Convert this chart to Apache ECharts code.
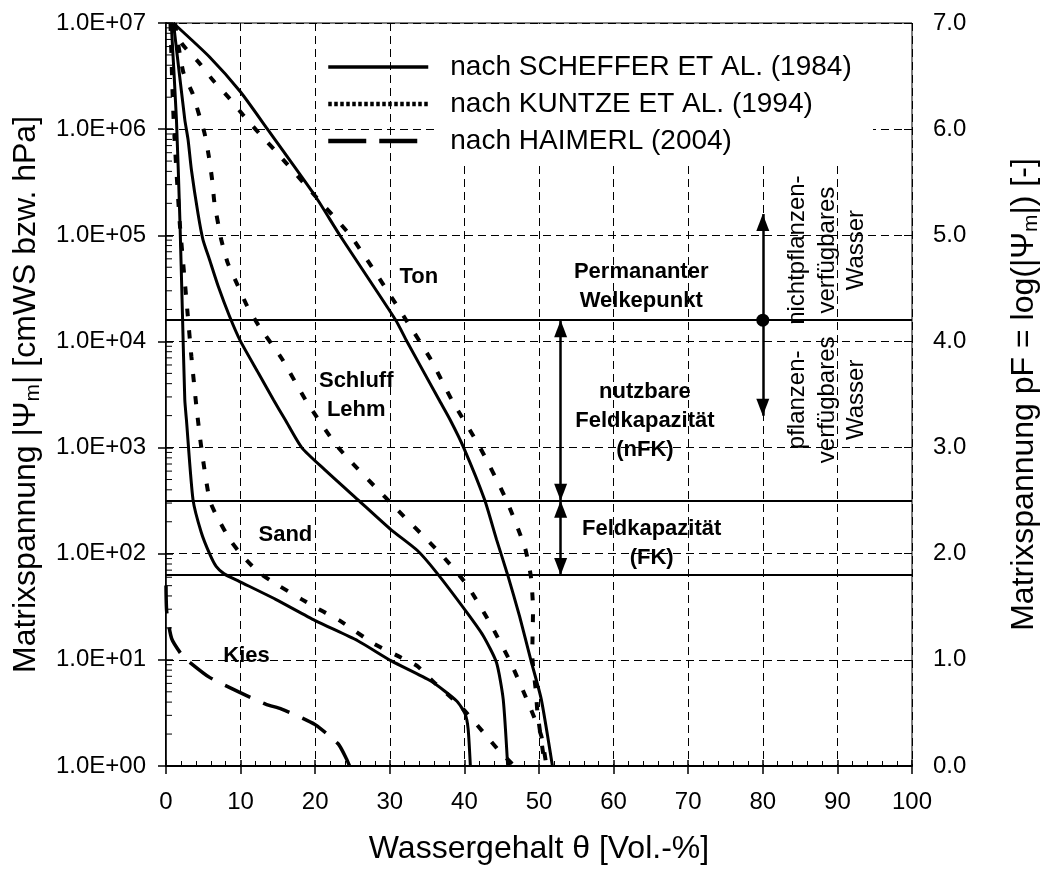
<!DOCTYPE html>
<html lang="de">
<head>
<meta charset="utf-8">
<title>pF-Kurven</title>
<script src="https://cdn.jsdelivr.net/npm/echarts@6/dist/echarts.min.js"></script>
<style>
  html, body { margin: 0; background: #fff; }
  #chart { width: 1050px; height: 870px; }
</style>
</head>
<body>
<div id="chart"></div>
<script>
// Wassergehalt [Vol.-%] / pF
var sandScheffer = [[0.7,7.0],[1.4,6.09],[1.86,5.15],[2.2,4.27],[2.52,3.45],[2.74,3.26],[3.62,2.51],[4.73,2.2],[5.84,2.0],[6.72,1.88],[7.8,1.81],[9.8,1.74],[14.7,1.57],[20.0,1.37],[25.7,1.18],[30.2,0.99],[35.5,0.8],[39.0,0.61],[40.1,0.49],[40.5,0.35],[40.8,0]];
var sandKuntze = [[0.6,7.0],[0.9,6.3],[1.19,5.85],[1.86,5.1],[2.3,4.74],[2.85,4.3],[3.4,3.86],[4.07,3.39],[4.73,3.0],[5.84,2.51],[6.9,2.34],[8.7,2.12],[10.25,1.98],[12.5,1.82],[15.1,1.7],[18.2,1.57],[20.4,1.48],[23.3,1.37],[27.9,1.15],[31.0,1.04],[33.7,0.94],[35.9,0.79],[39.4,0.57],[42.5,0.32],[44.7,0.14],[46.7,0]];
var schluffScheffer = [[1.0,7.0],[2.52,6.09],[2.96,5.9],[3.4,5.62],[4.3,5.2],[4.95,4.96],[5.84,4.77],[7.0,4.52],[8.5,4.24],[10.0,4.0],[12.4,3.7],[14.4,3.45],[16.0,3.26],[18.2,3.0],[21.3,2.79],[25.7,2.51],[30.1,2.23],[33.7,2.03],[36.3,1.82],[40.3,1.45],[42.5,1.23],[44.3,0.975],[45.2,0.63],[45.8,0]];
var schluffKuntze = [[1.2,7.0],[2.3,6.54],[3.54,6.34],[4.5,6.12],[5.17,5.96],[5.75,5.74],[6.19,5.52],[6.5,5.3],[7.07,5.08],[7.4,4.96],[8.27,4.74],[9.6,4.53],[10.9,4.33],[12.5,4.14],[15.6,3.83],[18.7,3.45],[23.1,3.0],[30.1,2.48],[36.8,2.0],[40.3,1.71],[43.4,1.35],[46.3,0.96],[48.7,0.57],[50.3,0.285],[51.0,0]];
var tonScheffer = [[0.97,7.0],[5.84,6.68],[10.0,6.35],[13.6,6.0],[20.0,5.37],[23.3,5.0],[30.8,4.2],[32.3,4.0],[36.6,3.45],[38.1,3.26],[39.9,3.0],[42.7,2.51],[44.3,2.135],[45.8,1.8],[47.4,1.41],[48.9,1.0],[50.3,0.63],[51.8,0]];
var tonKuntze = [[0.9,7.0],[2.08,6.81],[4.5,6.62],[6.3,6.46],[8.5,6.29],[10.5,6.12],[12.5,5.96],[14.6,5.8],[20.0,5.37],[24.8,4.99],[30.2,4.42],[32.2,4.2],[35.5,3.83],[38.3,3.45],[42.1,3.0],[45.6,2.51],[48.1,2.06],[48.9,1.79],[49.2,1.48],[49.1,1.05],[49.6,0.69],[49.8,0.5],[50.8,0]];
var kiesHaimerl = [[0.0,1.7],[0.1,1.45],[0.76,1.2],[2.08,1.05],[2.96,0.99],[5.84,0.835],[9.81,0.696],[13.35,0.583],[15.5,0.536],[18.9,0.43],[20.2,0.38],[23.1,0.207],[24.2,0.066],[24.6,0]];

// Grenzwerte pF
var levelPF = [4.2, 2.5, 1.8];

// Beschriftungen im Diagramm
var labelText = ['Ton', 'Schluff\nLehm', 'Sand', 'Kies', 'Permananter\nWelkepunkt', 'nutzbare\nFeldkapazität\n(nFK)', 'Feldkapazität\n(FK)'];
var labelX = [33.9, 25.5, 16.0, 10.8, 63.7, 64.2, 65.1];
var labelPF = [4.61, 3.49, 2.18, 1.04, 4.52, 3.25, 2.10];

var rotText = ['nichtpflanzen-\nverfügbares\nWasser', 'pflanzen-\nverfügbares\nWasser'];
var rotX = [88.6, 88.6];
var rotPF = [4.86, 3.45];

// Pfeile: x, pF von, pF bis
var arrowX = [80, 52.9, 52.9];
var arrowFrom = [5.2, 4.2, 2.5];
var arrowTo = [3.3, 2.5, 1.8];
var dotPoint = [[80, 4.2]];

var NAME_S = 'nach SCHEFFER ET AL. (1984)';
var NAME_K = 'nach KUNTZE ET AL. (1994)';
var NAME_H = 'nach HAIMERL (2004)';

// Nebenteilstriche der log-Achse (2..9 je Dekade)
var minorTicks = [];
for (var d = 0; d < 7; d++) {
  for (var k = 2; k <= 9; k++) minorTicks.push([0, d + Math.log10(k)]);
}

var FONT = 'Liberation Sans, Arial, sans-serif';
var solidStyle = { color: '#000', width: 3, type: 'solid' };
var dotStyle = { color: '#000', width: 4, type: [8, 14] };
var dashStyle = { color: '#000', width: 3.5, type: [28, 14] };
var noSymbol = { opacity: 0, color: 'transparent', borderWidth: 0 };

function curve(name, data, style) {
  return {
    type: 'line', name: name, data: data, yAxisIndex: 1,
    symbol: 'none', smooth: 0.2, silent: true,
    lineStyle: style, itemStyle: { color: '#000' }, z: 3
  };
}

var titleRich = {
  a: { fontSize: 32, color: '#000', fontFamily: FONT, lineHeight: 36 },
  s: { fontSize: 21, color: '#000', fontFamily: FONT, lineHeight: 20, verticalAlign: 'bottom' }
};

var chart = echarts.init(document.getElementById('chart'));

var option = {
  animation: false,
  textStyle: { fontFamily: FONT, color: '#000' },
  grid: { left: 166, right: 130, top: 23, bottom: 103, show: true, borderColor: '#000', borderWidth: 1 },
  legend: {
    orient: 'vertical', left: 326, top: 52, padding: 0,
    itemWidth: 100, itemHeight: 14, itemGap: 7, selectedMode: false,
    data: [
      { name: NAME_S, itemStyle: noSymbol, lineStyle: { width: 3.5, type: 'solid', color: '#000' } },
      { name: NAME_K, itemStyle: noSymbol, lineStyle: { width: 4.5, type: [3.5, 2.5], color: '#000' } },
      { name: NAME_H, itemStyle: noSymbol, lineStyle: { width: 4.5, type: [38, 13], color: '#000' } }
    ],
    textStyle: { fontSize: 28, color: '#000', fontFamily: FONT, lineHeight: 30, padding: [0, 0, 0, 17] }
  },
  graphic: [{
    type: 'rect', z: 1, silent: true,
    shape: { x: 437, y: 24, width: 436, height: 139 },
    style: { fill: '#fff' }
  }],
  xAxis: [{
    type: 'value', min: 0, max: 100, interval: 10, position: 'bottom',
    name: 'Wassergehalt θ [Vol.-%]', nameLocation: 'middle', nameGap: 67,
    nameTextStyle: { fontSize: 32, color: '#000', fontFamily: FONT },
    axisLine: { lineStyle: { color: '#000', width: 2 } },
    axisTick: { length: 8, lineStyle: { color: '#000', width: 1.5 } },
    axisLabel: { margin: 24, fontSize: 24, color: '#000', fontFamily: FONT },
    splitLine: { show: true, lineStyle: { color: '#000', width: 1, type: [8, 5] } }
  }, {
    type: 'value', min: 0, max: 100, interval: 10, position: 'bottom',
    axisLine: { show: false },
    axisTick: { inside: true, length: 6, lineStyle: { color: '#000', width: 1.5 } },
    minorTick: { show: true, splitNumber: 5, length: 5, lineStyle: { color: '#000', width: 1 } },
    axisLabel: { show: false }, splitLine: { show: false }
  }],
  yAxis: [{
    type: 'log', logBase: 10, min: 1, max: 1e7, position: 'left',
    name: '{a|Matrixspannung |Ψ}{s|m}{a|| [cmWS bzw. hPa]}',
    nameLocation: 'middle', nameGap: 122, nameRotate: 90,
    nameTextStyle: { rich: titleRich },
    axisLine: { show: true, lineStyle: { color: '#000', width: 2 } },
    axisTick: { length: 8, lineStyle: { color: '#000', width: 1.5 } },
    axisLabel: {
      margin: 20, fontSize: 24, color: '#000', fontFamily: FONT,
      formatter: function (v) {
        var e = Math.round(Math.log10(v));
        return '1.0E+' + (e < 10 ? '0' : '') + e;
      }
    },
    splitLine: { show: true, lineStyle: { color: '#000', width: 1, type: [8, 5] } }
  }, {
    type: 'value', min: 0, max: 7, interval: 1, position: 'right',
    name: '{a|Matrixspannung pF = log(|Ψ}{s|m}{a||) [-]}',
    nameLocation: 'middle', nameGap: 94, nameRotate: 90,
    nameTextStyle: { rich: titleRich },
    axisLine: { show: true, lineStyle: { color: '#333', width: 1 } },
    axisTick: { length: 7, lineStyle: { color: '#000', width: 1 } },
    axisLabel: {
      margin: 21, fontSize: 24, color: '#000', fontFamily: FONT,
      formatter: function (v) { return v.toFixed(1); }
    },
    splitLine: { show: false }
  }, {
    type: 'log', logBase: 10, min: 1, max: 1e7, position: 'left',
    axisLine: { show: false },
    axisTick: { inside: true, length: 7, lineStyle: { color: '#000', width: 1.5 } },
    axisLabel: { show: false }, splitLine: { show: false }
  }, {
    type: 'value', min: 0, max: 7, interval: 1, position: 'right',
    axisLine: { show: false },
    axisTick: { inside: true, length: 8, lineStyle: { color: '#000', width: 1 } },
    axisLabel: { show: false }, splitLine: { show: false }
  }],
  series: [
    curve(NAME_S, sandScheffer, solidStyle),
    curve(NAME_S, schluffScheffer, solidStyle),
    curve(NAME_S, tonScheffer, solidStyle),
    curve(NAME_K, sandKuntze, dotStyle),
    curve(NAME_K, schluffKuntze, dotStyle),
    curve(NAME_K, tonKuntze, dotStyle),
    curve(NAME_H, kiesHaimerl, dashStyle),
    {
      type: 'custom', yAxisIndex: 1, silent: true, clip: false,
      data: minorTicks,
      renderItem: function (params, api) {
        var p = api.coord([api.value(0), api.value(1)]);
        return {
          type: 'line',
          shape: { x1: p[0], y1: p[1], x2: p[0] + 6, y2: p[1] },
          style: { stroke: '#000', lineWidth: 1 }
        };
      }
    },
    {
      type: 'scatter', yAxisIndex: 1, symbolSize: 0, silent: true, z: 4,
      itemStyle: { color: '#000', opacity: 1 },
      data: labelText.map(function (t, i) {
        return { value: [labelX[i], labelPF[i]], label: { formatter: t } };
      }),
      label: {
        show: true, position: 'inside', fontSize: 22, fontWeight: 'bold',
        color: '#000', opacity: 1, textBorderWidth: 0, fontFamily: FONT, lineHeight: 29,
        align: 'center', verticalAlign: 'middle'
      },
      markLine: {
        silent: true, symbol: 'none', label: { show: false },
        lineStyle: { color: '#000', width: 2, type: 'solid', opacity: 1 },
        data: levelPF.map(function (v) { return { yAxis: v }; })
      }
    },
    {
      type: 'scatter', yAxisIndex: 1, symbolSize: 0, silent: true, z: 4,
      itemStyle: { color: '#000', opacity: 1 },
      data: rotText.map(function (t, i) {
        return { value: [rotX[i], rotPF[i]], label: { formatter: t } };
      }),
      label: {
        show: true, position: 'inside', rotate: 90, fontSize: 24,
        color: '#000', opacity: 1, textBorderWidth: 0, fontFamily: FONT, lineHeight: 29.5,
        align: 'center', verticalAlign: 'middle'
      }
    },
    {
      type: 'scatter', yAxisIndex: 1, symbol: 'circle', symbolSize: 13, silent: true, z: 5,
      itemStyle: { color: '#000', opacity: 1 },
      data: dotPoint,
      markLine: {
        silent: true, symbol: ['triangle', 'triangle'], symbolSize: [13, 17],
        symbolOffset: [[0, '50%'], [0, '50%']],
        label: { show: false },
        lineStyle: { color: '#000', width: 2.5, type: 'solid', opacity: 1 },
        data: arrowX.map(function (x, i) {
          return [{ coord: [x, arrowFrom[i]] }, { coord: [x, arrowTo[i]] }];
        })
      }
    }
  ]
};

chart.setOption(option);
window.addEventListener('resize', chart.resize);
</script>
</body>
</html>
